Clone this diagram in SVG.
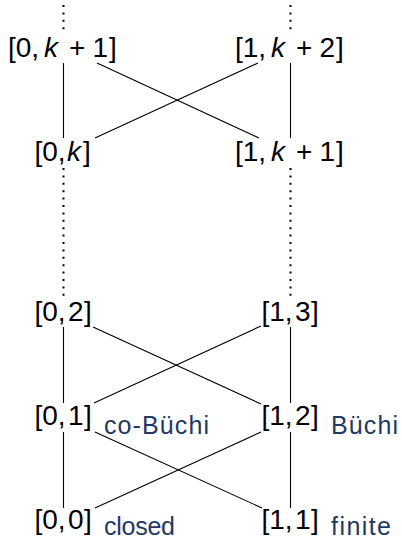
<svg xmlns="http://www.w3.org/2000/svg" width="402" height="542" viewBox="0 0 402 542">
  <style>
    .n { font-family: "Liberation Sans", "DejaVu Sans", sans-serif; font-size: 28px; fill: #000; }
    .v { font-style: italic; }
    .lbl { font-family: "Liberation Sans", "DejaVu Sans", sans-serif; font-size: 25px; fill: #1f3864; }
    .edge { stroke: #000; stroke-width: 1.1; fill: none; }
    .dots { stroke: #000; stroke-width: 2; stroke-dasharray: 2 5.4; fill: none; }
  </style>
  <rect width="402" height="542" fill="#fff"/>

  <!-- connectors -->
  <g id="connectors">
    <!-- continuation (omitted levels) -->
    <line class="dots" x1="63.5" y1="5" x2="63.5" y2="33"/>
    <line class="dots" x1="290.5" y1="5" x2="290.5" y2="33"/>
    <line class="dots" x1="63.5" y1="168" x2="63.5" y2="298"/>
    <line class="dots" x1="290.5" y1="168" x2="290.5" y2="298"/>
    <!-- level k -->
    <line class="edge" x1="63.5" y1="63" x2="63.5" y2="138"/>
    <line class="edge" x1="290.5" y1="63" x2="290.5" y2="138"/>
    <line class="edge" x1="97" y1="63" x2="259" y2="138"/>
    <line class="edge" x1="258" y1="63" x2="95" y2="138"/>
    <!-- levels 1..2 -->
    <line class="edge" x1="63.5" y1="327" x2="63.5" y2="403"/>
    <line class="edge" x1="290.5" y1="327" x2="290.5" y2="403"/>
    <line class="edge" x1="93" y1="327" x2="261" y2="404"/>
    <line class="edge" x1="261" y1="326" x2="94" y2="403"/>
    <!-- levels 0..1 -->
    <line class="edge" x1="63.5" y1="432" x2="63.5" y2="508"/>
    <line class="edge" x1="290.5" y1="432" x2="290.5" y2="508"/>
    <line class="edge" x1="95" y1="432" x2="262" y2="508"/>
    <line class="edge" x1="261" y1="432" x2="95" y2="508"/>
  </g>

  <!-- nodes -->
  <g id="n0k1">
    <text class="n" y="57"><tspan x="8">[0,</tspan><tspan class="v" x="44">k</tspan><tspan x="69">+</tspan><tspan x="92.5">1</tspan><tspan x="109">]</tspan></text>
  </g>
  <g id="n1k2">
    <text class="n" y="57"><tspan x="235">[1,</tspan><tspan class="v" x="271">k</tspan><tspan x="296">+</tspan><tspan x="319.5">2</tspan><tspan x="336">]</tspan></text>
  </g>
  <g id="n0k">
    <text class="n" y="161"><tspan x="34.5">[0,</tspan><tspan class="v" x="67">k</tspan><tspan x="83">]</tspan></text>
  </g>
  <g id="n1k1">
    <text class="n" y="161"><tspan x="235">[1,</tspan><tspan class="v" x="271">k</tspan><tspan x="296">+</tspan><tspan x="319.5">1</tspan><tspan x="336">]</tspan></text>
  </g>
  <g id="n02">
    <text class="n" y="321"><tspan x="34.5">[0,</tspan><tspan x="68">2</tspan><tspan x="84">]</tspan></text>
  </g>
  <g id="n13">
    <text class="n" y="321"><tspan x="261.5">[1,</tspan><tspan x="295">3</tspan><tspan x="311">]</tspan></text>
  </g>
  <g id="n01">
    <text class="n" y="425"><tspan x="34.5">[0,</tspan><tspan x="68">1</tspan><tspan x="84">]</tspan></text>
    <text class="lbl" x="104" y="434" textLength="105">co-Büchi</text>
  </g>
  <g id="n12">
    <text class="n" y="425"><tspan x="261.5">[1,</tspan><tspan x="295">2</tspan><tspan x="311">]</tspan></text>
    <text class="lbl" x="331" y="434" textLength="67">Büchi</text>
  </g>
  <g id="n00">
    <text class="n" y="529"><tspan x="34.5">[0,</tspan><tspan x="68">0</tspan><tspan x="84">]</tspan></text>
    <text class="lbl" x="104" y="535" textLength="71">closed</text>
  </g>
  <g id="n11">
    <text class="n" y="529"><tspan x="261.5">[1,</tspan><tspan x="295">1</tspan><tspan x="311">]</tspan></text>
    <text class="lbl" x="331" y="535" textLength="60">finite</text>
  </g>
</svg>
